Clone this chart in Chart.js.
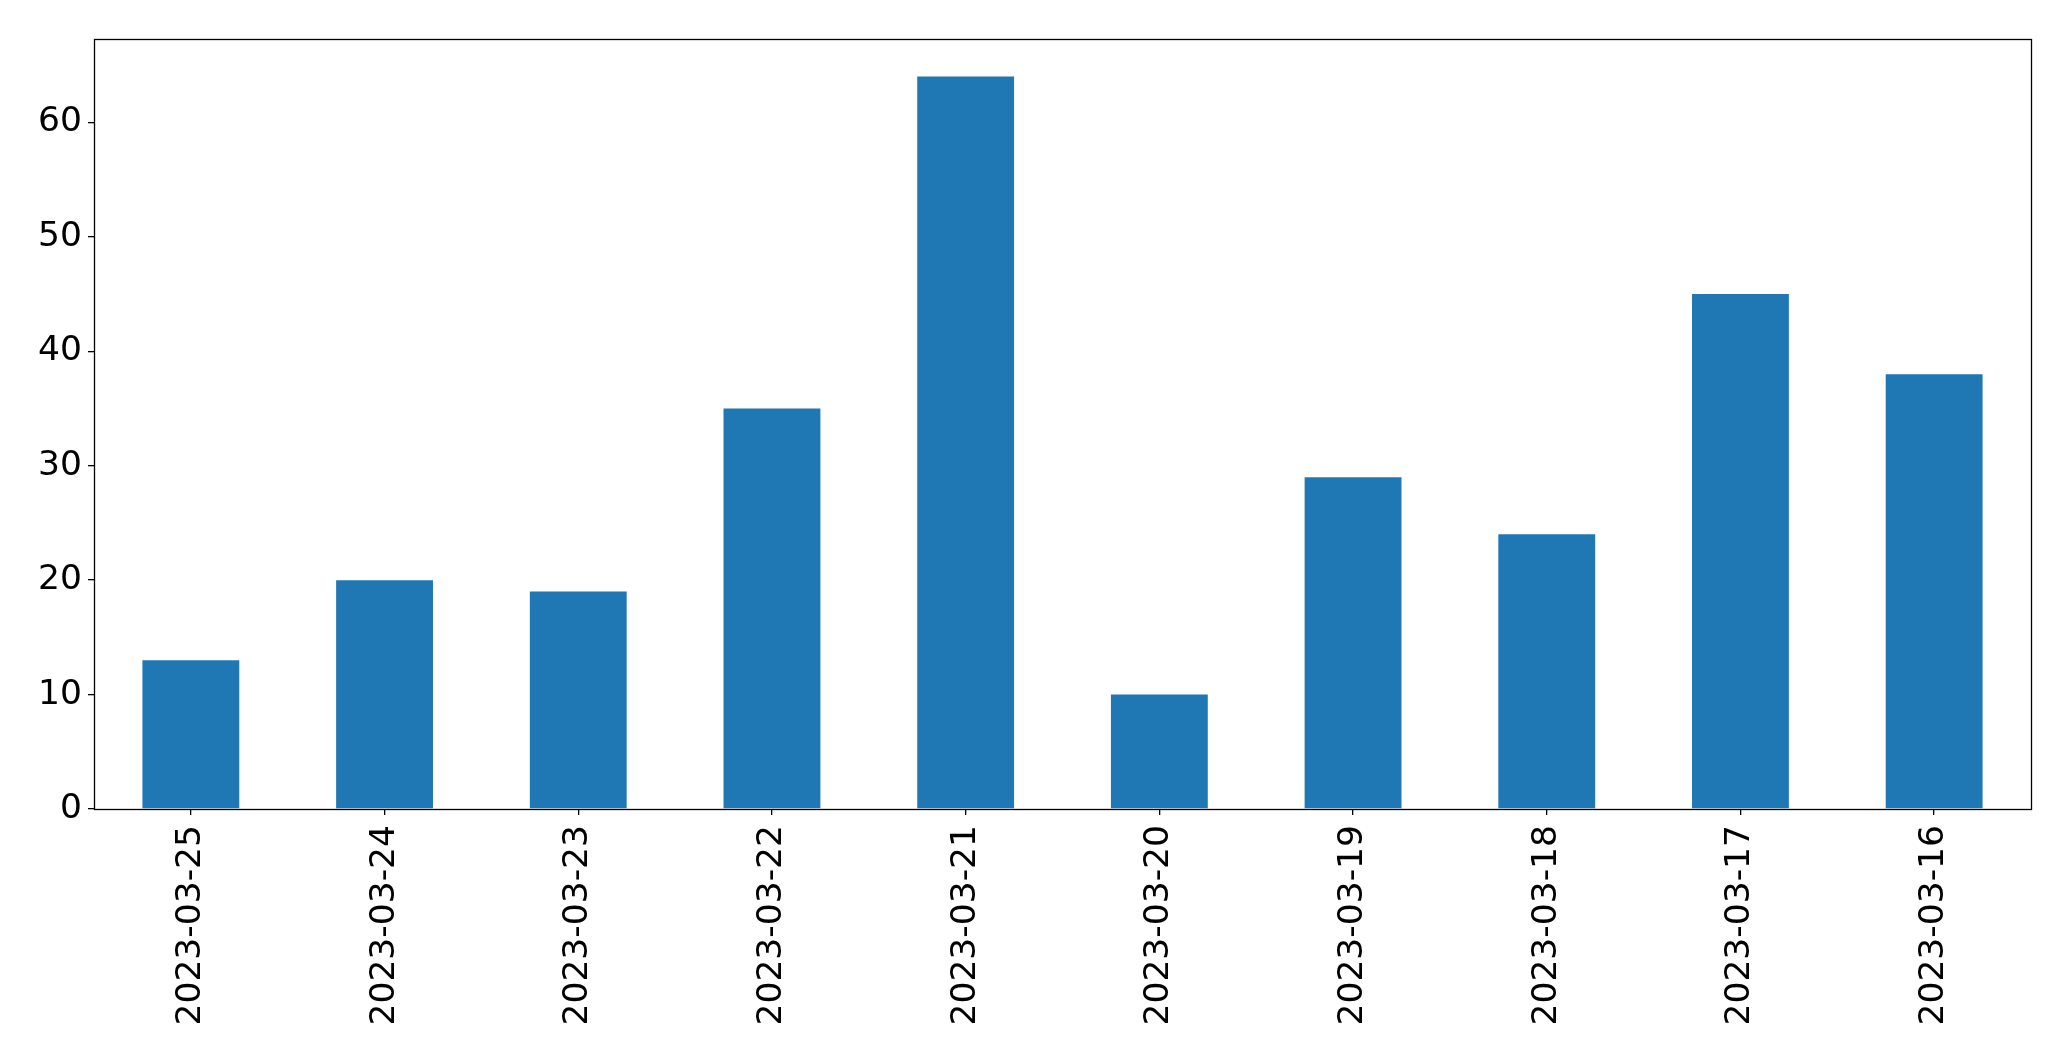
<!DOCTYPE html>
<html>
<head>
<meta charset="utf-8">
<script src="https://cdn.jsdelivr.net/npm/chart.js@4"></script>
<style>
  html, body { margin: 0; padding: 0; background: #fff; }
  canvas { display: block; }
</style>
</head>
<body>
<canvas id="chart" width="2071" height="1061"></canvas>
<script>
const dates = ['2023-03-25', '2023-03-24', '2023-03-23', '2023-03-22', '2023-03-21',
  '2023-03-20', '2023-03-19', '2023-03-18', '2023-03-17', '2023-03-16']
const counts = [13, 20, 19, 35, 64, 10, 29, 24, 45, 38]
const yTicks = [0, 10, 20, 30, 40, 50, 60]

// matplotlib-style frame round the plot area
const framePlugin = {
  id: 'frame',
  afterDraw(chart) {
    const { ctx, chartArea } = chart
    const l = Math.round(chartArea.left) + 0.5
    const t = Math.round(chartArea.top) - 0.5
    const r = Math.round(chartArea.right) + 0.5
    const b = Math.round(chartArea.bottom) + 0.5
    ctx.save()
    ctx.strokeStyle = '#000'
    ctx.lineWidth = 1.3
    ctx.strokeRect(l, t, r - l, b - t)
    ctx.restore()
  },
}

const font = { family: 'DejaVu Sans', size: 34.5 }
const tickGrid = {
  display: true,
  offset: false,
  drawOnChartArea: false,
  drawTicks: true,
  tickLength: 6,
  tickColor: '#000',
  tickWidth: 1.3,
  lineWidth: 1.3,
}

new Chart(document.getElementById('chart'), {
  type: 'bar',
  data: {
    labels: dates,
    datasets: [{
      data: counts,
      backgroundColor: '#1f77b4',
      barPercentage: 0.5,
      categoryPercentage: 1.0,
    }],
  },
  options: {
    responsive: false,
    animation: false,
    devicePixelRatio: 1,
    layout: { padding: { left: 0, top: 40, right: 40, bottom: 0 } },
    plugins: { legend: { display: false }, tooltip: { enabled: false } },
    scales: {
      x: {
        grid: tickGrid,
        border: { display: false },
        ticks: { color: '#000', font, minRotation: 90, maxRotation: 90, autoSkip: false, padding: 10 },
        afterFit(scale) { scale.height = 252 },
      },
      y: {
        min: 0,
        max: 67.2,
        grid: tickGrid,
        border: { display: false },
        ticks: { color: '#000', font, padding: 6 },
        afterBuildTicks(scale) { scale.ticks = yTicks.map((v) => ({ value: v })) },
        afterFit(scale) { scale.width = 94 },
      },
    },
  },
  plugins: [framePlugin],
})
</script>
</body>
</html>
